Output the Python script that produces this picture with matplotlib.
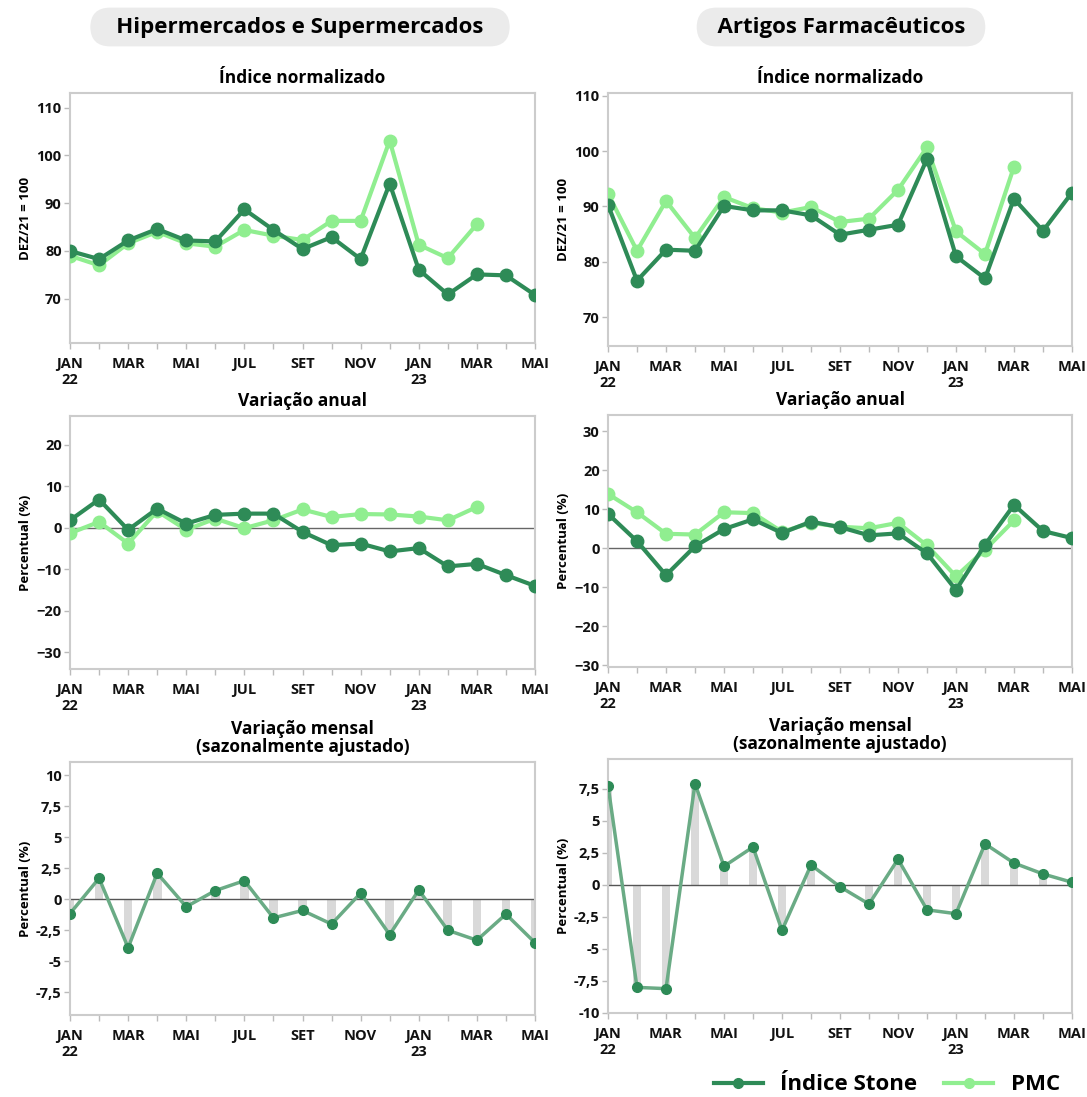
import numpy as np
import matplotlib.pyplot as plt
from matplotlib.ticker import FuncFormatter
from matplotlib.lines import Line2D

plt.rcParams['font.family'] = ['Open Sans', 'DejaVu Sans']

meses = ['JAN\n22', 'MAR', 'MAI', 'JUL', 'SET', 'NOV', 'JAN\n23', 'MAR', 'MAI']

# Hipermercados e Supermercados
hiper_idx_stone = [80.0, 78.3, 82.2, 84.6, 82.2, 82.0, 88.7, 84.4, 80.4, 82.9, 78.3, 94.1,
                   76.1, 70.9, 75.1, 74.9, 70.8]
hiper_idx_pmc = [79.0, 77.0, 81.6, 84.0, 81.6, 80.9, 84.4, 83.2, 82.3, 86.3, 86.3, 103.1,
                 81.3, 78.5, 85.6]
hiper_anual_stone = [1.8, 6.8, -0.5, 4.6, 1.0, 3.1, 3.4, 3.4, -1.0, -4.2, -3.8, -5.7,
                     -4.9, -9.3, -8.7, -11.4, -14.0]
hiper_anual_pmc = [-1.3, 1.4, -3.8, 4.0, -0.5, 2.2, -0.1, 1.8, 4.4, 2.6, 3.3, 3.2,
                   2.7, 1.8, 5.0]
hiper_mensal = [-1.15, 1.7, -3.9, 2.1, -0.6, 0.7, 1.5, -1.5, -0.9, -2.0, 0.5, -2.85,
                0.75, -2.5, -3.3, -1.2, -3.5]

# Artigos Farmaceuticos
farma_idx_stone = [90.3, 76.6, 82.2, 82.0, 90.1, 89.3, 89.3, 88.4, 84.9, 85.8, 86.7, 98.6,
                   81.0, 77.0, 91.4, 85.6, 92.5]
farma_idx_pmc = [92.3, 82.0, 91.0, 84.3, 91.7, 89.7, 88.9, 89.9, 87.2, 87.8, 93.0, 100.7,
                 85.5, 81.4, 97.2]
farma_anual_stone = [8.8, 1.8, -6.9, 0.5, 4.9, 7.4, 3.9, 6.8, 5.4, 3.3, 3.8, -1.3,
                     -10.7, 0.9, 11.1, 4.4, 2.6]
farma_anual_pmc = [13.9, 9.2, 3.7, 3.5, 9.2, 9.0, 4.2, 6.5, 5.5, 5.1, 6.5, 0.7,
                   -7.2, -0.4, 7.1]
farma_mensal = [7.75, -8.0, -8.1, 7.9, 1.45, 2.95, -3.55, 1.55, -0.15, -1.5, 2.0, -1.95,
                -2.25, 3.2, 1.7, 0.85, 0.2]

verde = '#2e8b57'
verde_claro = '#90ee90'
verde_linha = '#6aab85'
cinza = '#cccccc'

fig = plt.figure(figsize=(10.87, 10.97), dpi=100)
H = 1097.0
W = 1087.0


def eixo(x0, x1, y0, y1):
    return fig.add_axes([x0 / W, 1 - y1 / H, (x1 - x0) / W, (y1 - y0) / H])


def estilo(ax, ylim, yticks, ylabel, decimal=False):
    ax.set_xlim(0, 16)
    ax.set_ylim(*ylim)
    ax.set_yticks(yticks)
    if decimal:
        ax.yaxis.set_major_formatter(FuncFormatter(
            lambda v, p: ('%g' % v).replace('.', ',')))
    ax.set_xticks(range(0, 17, 2))
    ax.set_xticklabels(meses, linespacing=1.15)
    ax.set_xticks(range(17), minor=True)
    for s in ax.spines.values():
        s.set_color(cinza)
        s.set_linewidth(1.5)
    ax.tick_params(axis='both', which='both', color='#bbbbbb', length=4, width=1,
                   labelsize=10.5, labelcolor='#111111')
    ax.tick_params(axis='x', pad=6)
    ax.tick_params(axis='y', pad=2)
    for t in ax.get_xticklabels() + ax.get_yticklabels():
        t.set_fontweight('bold')
    ax.set_ylabel(ylabel, fontsize=9.5, fontweight='bold', labelpad=3)


def painel_indice(ax, stone, pmc):
    ax.plot(range(len(pmc)), pmc, color=verde_claro, lw=3, marker='o', ms=9, zorder=3)
    ax.plot(range(len(stone)), stone, color=verde, lw=3, marker='o', ms=9, zorder=4)


titulo_kw = dict(fontsize=12.5, fontweight='bold', pad=7, linespacing=1.05)

# linha 1
ax1 = eixo(70, 535, 93, 343)
painel_indice(ax1, hiper_idx_stone, hiper_idx_pmc)
estilo(ax1, (60.75, 113.05), [70, 80, 90, 100, 110], 'DEZ/21 = 100')
ax1.set_title('Índice normalizado', **titulo_kw)

ax2 = eixo(608, 1072, 93, 346)
painel_indice(ax2, farma_idx_stone, farma_idx_pmc)
estilo(ax2, (64.8, 110.5), [70, 80, 90, 100, 110], 'DEZ/21 = 100')
ax2.set_title('Índice normalizado', **titulo_kw)

# linha 2
ax3 = eixo(70, 535, 416, 669)
ax3.axhline(0, color='#666666', lw=1, zorder=1)
painel_indice(ax3, hiper_anual_stone, hiper_anual_pmc)
estilo(ax3, (-34.0, 26.9), [-30, -20, -10, 0, 10, 20], 'Percentual (%)')
ax3.set_title('Variação anual', **titulo_kw)

ax4 = eixo(608, 1072, 415, 667)
ax4.axhline(0, color='#666666', lw=1, zorder=1)
painel_indice(ax4, farma_anual_stone, farma_anual_pmc)
estilo(ax4, (-30.4, 34.1), [-30, -20, -10, 0, 10, 20, 30], 'Percentual (%)')
ax4.set_title('Variação anual', **titulo_kw)

# linha 3
ax5 = eixo(70, 535, 762, 1015)
ax5.bar(range(17), hiper_mensal, width=0.3, color='#d9d9d9', zorder=1)
ax5.axhline(0, color='#555555', lw=1, zorder=2)
ax5.plot(range(17), hiper_mensal, color=verde_linha, lw=2.5, zorder=3)
ax5.plot(range(17), hiper_mensal, ls='none', marker='o', ms=7, color=verde, zorder=4)
estilo(ax5, (-9.33, 11.07), [-7.5, -5, -2.5, 0, 2.5, 5, 7.5, 10], 'Percentual (%)', True)
ax5.set_title('Variação mensal\n(sazonalmente ajustado)', **titulo_kw)

ax6 = eixo(608, 1072, 759, 1013)
ax6.bar(range(17), farma_mensal, width=0.3, color='#d9d9d9', zorder=1)
ax6.axhline(0, color='#555555', lw=1, zorder=2)
ax6.plot(range(17), farma_mensal, color=verde_linha, lw=2.5, zorder=3)
ax6.plot(range(17), farma_mensal, ls='none', marker='o', ms=7, color=verde, zorder=4)
estilo(ax6, (-10, 9.82), [-10, -7.5, -5, -2.5, 0, 2.5, 5, 7.5], 'Percentual (%)', True)
ax6.set_title('Variação mensal\n(sazonalmente ajustado)', **titulo_kw)

# cabecalhos
caixa = dict(boxstyle='round,pad=0.4,rounding_size=0.9', fc='#ebebeb', ec='none')
fig.text(300 / W, 1 - 27 / H, '   Hipermercados e Supermercados   ', ha='center',
         va='center', fontsize=16, fontweight='bold', bbox=caixa)
fig.text(841 / W, 1 - 27 / H, '  Artigos Farmacêuticos  ', ha='center', va='center',
         fontsize=16, fontweight='bold', bbox=caixa)

# legenda
handles = [Line2D([], [], color=verde, lw=3, marker='o', ms=7),
           Line2D([], [], color=verde_claro, lw=3, marker='o', ms=7)]
fig.legend(handles, ['Índice Stone', 'PMC'], ncol=2, loc='center right',
           bbox_to_anchor=(1080 / W, 1 - 1085 / H), frameon=False,
           prop={'size': 16, 'weight': 'bold'}, handlelength=2.2,
           columnspacing=1.2, handletextpad=0.8)

fig.savefig('out.png', dpi=100)
